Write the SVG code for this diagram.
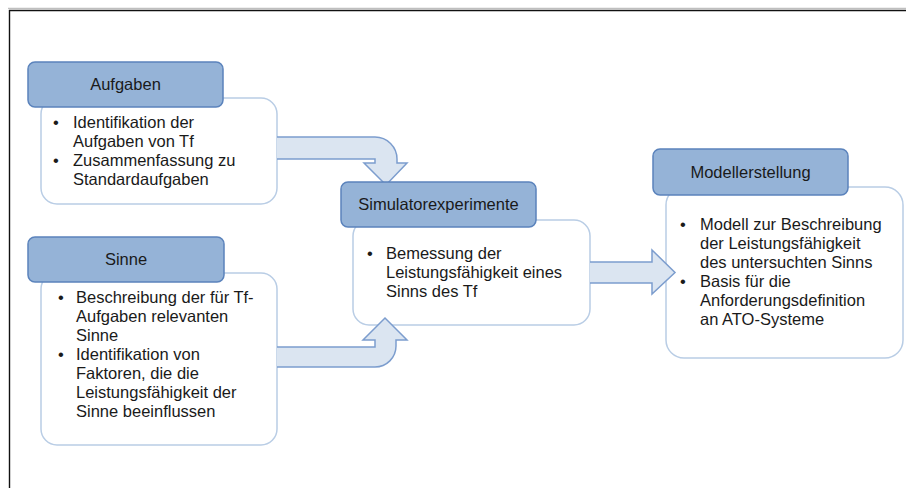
<svg xmlns="http://www.w3.org/2000/svg" width="906" height="488" viewBox="0 0 906 488">
<style>
.hdr{fill:#95B3D7;stroke:#5B83BC;stroke-width:1.5}
.body{fill:#FFFFFF;stroke:#B9CDE5;stroke-width:1.5}
.arr{fill:#DBE5F1;stroke:#7C9DCE;stroke-width:1.5;stroke-linejoin:miter}
.ht{font-family:"Liberation Sans",Arial,sans-serif;font-size:16.5px;fill:#1a1a1a;text-anchor:middle}
.bt{font-family:"Liberation Sans",Arial,sans-serif;font-size:16.5px;fill:#1a1a1a}
</style>
<rect width="906" height="488" fill="#FFFFFF"/>
<line x1="8" y1="8.3" x2="906" y2="8.3" stroke="#B0B0B0" stroke-width="1"/>
<path d="M9.5 488 V10.5 H906" fill="none" stroke="#111" stroke-width="1.4"/>

<g id="aufgaben-body">
<rect class="body" x="41" y="98" width="236" height="106" rx="16"/>
<text class="bt" x="53" y="128">•</text>
<text class="bt" x="73" y="128">Identifikation der</text>
<text class="bt" x="73" y="147">Aufgaben von Tf</text>
<text class="bt" x="53" y="166">•</text>
<text class="bt" x="73" y="166">Zusammenfassung zu</text>
<text class="bt" x="73" y="185">Standardaufgaben</text>
</g>

<g id="sinne-body">
<rect class="body" x="41" y="273" width="236" height="172" rx="16"/>
<text class="bt" x="58" y="303">•</text>
<text class="bt" x="76" y="303">Beschreibung der für Tf-</text>
<text class="bt" x="76" y="322">Aufgaben relevanten</text>
<text class="bt" x="76" y="341">Sinne</text>
<text class="bt" x="58" y="360">•</text>
<text class="bt" x="76" y="360">Identifikation von</text>
<text class="bt" x="76" y="379">Faktoren, die die</text>
<text class="bt" x="76" y="398">Leistungsfähigkeit der</text>
<text class="bt" x="76" y="417">Sinne beeinflussen</text>
</g>

<g id="simulator-body">
<rect class="body" x="353" y="220" width="237" height="105" rx="16"/>
<text class="bt" x="367" y="259">•</text>
<text class="bt" x="386" y="259">Bemessung der</text>
<text class="bt" x="386" y="278">Leistungsfähigkeit eines</text>
<text class="bt" x="386" y="297">Sinns des Tf</text>
</g>

<g id="modell-body">
<rect class="body" x="666" y="187" width="237" height="171" rx="18"/>
<text class="bt" x="680" y="230">•</text>
<text class="bt" x="700" y="230">Modell zur Beschreibung</text>
<text class="bt" x="700" y="249">der Leistungsfähigkeit</text>
<text class="bt" x="700" y="268">des untersuchten Sinns</text>
<text class="bt" x="680" y="287">•</text>
<text class="bt" x="700" y="287">Basis für die</text>
<text class="bt" x="700" y="306">Anforderungsdefinition</text>
<text class="bt" x="700" y="325">an ATO-Systeme</text>
</g>

<g id="connectors">
<path class="arr" d="M277 137 H375 A22 22 0 0 1 397 159 V163 H407 L386 185 L364 163 H375 V159 H277"/>
<path class="arr" d="M277 367 H375 A21 21 0 0 0 396 346 V340 H407 L385 318 L363 340 H375 V347 H277"/>
<path class="arr" d="M590 262 H652 V250 L675 272.5 L652 294 V283 H590"/>
</g>

<g id="aufgaben">
<rect class="hdr" x="28" y="62" width="195" height="45" rx="7"/>
<text class="ht" x="125.5" y="90">Aufgaben</text>
</g>

<g id="sinne">
<rect class="hdr" x="28" y="237" width="196" height="45" rx="7"/>
<text class="ht" x="126" y="265">Sinne</text>
</g>

<g id="simulatorexperimente">
<rect class="hdr" x="341" y="182" width="195" height="45" rx="7"/>
<text class="ht" x="438.5" y="210">Simulatorexperimente</text>
</g>

<g id="modellerstellung">
<rect class="hdr" x="653" y="149" width="195" height="46" rx="7"/>
<text class="ht" x="750.5" y="178">Modellerstellung</text>
</g>
</svg>
